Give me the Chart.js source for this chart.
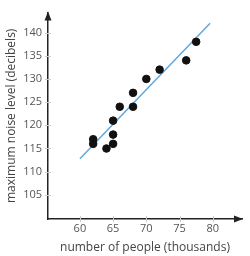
<!DOCTYPE html>
<html><head><meta charset="utf-8">
<script src="https://cdn.jsdelivr.net/npm/chart.js@4"></script>
<style>html,body{margin:0;padding:0;background:#fff}#w{width:250px;height:256px}</style>
</head><body><div id="w"><canvas id="c"></canvas></div>
<script>
const peopleThousands = [62, 62, 64, 65, 65, 65, 66, 68, 68, 70, 72, 76, 77.5];
const noiseDecibels   = [117, 116, 115, 116, 118, 121, 124, 124, 127, 130, 132, 134, 138];
const fitX = [60, 79.6];
const fitY = [112.8, 142];
const xTicks = [60, 65, 70, 75, 80];
const yTicks = [105, 110, 115, 120, 125, 130, 135, 140];

const arrows = {
  id: 'arrows',
  afterDraw(chart) {
    const {ctx, chartArea: a} = chart;
    ctx.save();
    ctx.fillStyle = '#222';
    ctx.beginPath();
    ctx.moveTo(a.right + 1, a.bottom);
    ctx.lineTo(a.right - 8, a.bottom - 3.5);
    ctx.lineTo(a.right - 8, a.bottom + 3.5);
    ctx.closePath(); ctx.fill();
    ctx.beginPath();
    ctx.moveTo(a.left, a.top - 1);
    ctx.lineTo(a.left - 3.5, a.top + 8);
    ctx.lineTo(a.left + 3.5, a.top + 8);
    ctx.closePath(); ctx.fill();
    ctx.strokeStyle = '#ccc'; ctx.lineWidth = 1;
    const xs = chart.scales.x, ys = chart.scales.y;
    xTicks.forEach(v => { const p = Math.round(xs.getPixelForValue(v)) + 0.5; ctx.beginPath(); ctx.moveTo(p, a.bottom - 3); ctx.lineTo(p, a.bottom + 3); ctx.stroke(); });
    yTicks.forEach(v => { const p = Math.round(ys.getPixelForValue(v)) + 0.5; ctx.beginPath(); ctx.moveTo(a.left - 3, p); ctx.lineTo(a.left + 3, p); ctx.stroke(); });
    ctx.restore();
  }
};

new Chart(document.getElementById('c'), {
  type: 'scatter',
  data: {
    datasets: [
      {
        type: 'line',
        data: fitX.map((x, i) => ({x, y: fitY[i]})),
        borderColor: '#5fa8dc', borderWidth: 1.5, pointRadius: 0, fill: false, order: 2
      },
      {
        data: peopleThousands.map((x, i) => ({x, y: noiseDecibels[i]})),
        backgroundColor: '#111', borderColor: '#111', pointRadius: 3.8, pointHoverRadius: 3.8, order: 1
      }
    ]
  },
  options: {
    responsive: true, maintainAspectRatio: false, animation: false,
    layout: {padding: {top: 5, right: 8, left: 0, bottom: 0}},
    plugins: {legend: {display: false}, tooltip: {enabled: false}},
    scales: {
      x: {
        type: 'linear', min: 55.2, max: 84.4,
        afterBuildTicks: s => { s.ticks = xTicks.map(v => ({value: v})); },
        afterFit: s => { s.height = 37; },
        border: {display: true, color: '#222', width: 1.5},
        grid: {display: false, drawTicks: false},
        ticks: {color: '#555', font: {family: 'Open Sans', size: 11}, padding: 3, maxRotation: 0},
        title: {display: true, text: 'number of people (thousands)', color: '#444', font: {family: 'Open Sans', size: 12}, padding: {top: 2, bottom: 1}}
      },
      y: {
        type: 'linear', min: 99.8, max: 144.3,
        afterBuildTicks: s => { s.ticks = yTicks.map(v => ({value: v})); },
        afterFit: s => { s.width = 48; },
        border: {display: true, color: '#222', width: 1.5},
        grid: {display: false, drawTicks: false},
        ticks: {color: '#555', font: {family: 'Open Sans', size: 11}, padding: 6},
        title: {display: true, text: 'maximum noise level (decibels)', color: '#444', font: {family: 'Open Sans', size: 12}, padding: {top: 4, bottom: 2}}
      }
    }
  },
  plugins: [arrows]
});
</script></body></html>
